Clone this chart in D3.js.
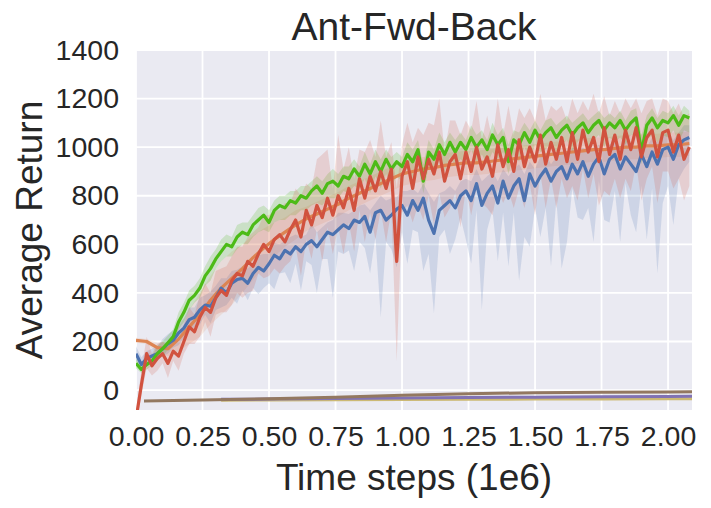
<!doctype html>
<html>
<head>
<script src="https://cdnjs.cloudflare.com/ajax/libs/d3/7.8.5/d3.min.js"></script>
<style>
  body { margin: 0; background: #fff; }
  text { font-family: "Liberation Sans", Arial, sans-serif; fill: #262626; }
</style>
</head>
<body>
<svg id="chart" width="711" height="508"></svg>
<script>
// sample spacing of the learning curves, in 1e6 time steps
const step = 0.02;
const orangeStep = 0.04;

const blueMean = [
  150, 105, 130, 140, 150, 170, 190, 205, 235, 255,
  290, 300, 330, 350, 345, 380, 420, 400, 440, 455,
  460, 440, 480, 505, 490, 520, 555, 540, 575, 560,
  590, 570, 600, 615, 590, 620, 650, 640, 660, 680,
  665, 700, 690, 715, 650, 730, 740, 700, 720, 745,
  760, 720, 780, 740, 790, 700, 645, 740, 760, 780,
  750, 800, 820, 780, 850, 760, 810, 840, 770, 860,
  790, 840, 870, 780, 890, 840, 880, 910, 860, 900,
  920, 870, 930, 890, 940, 880, 930, 960, 890, 950,
  970, 910, 960, 930, 900, 970, 920, 980, 930, 990,
  1000, 950, 1010, 1030, 1040
];
const blueDown = [
  30, 20, 20, 30, 30, 30, 40, 30, 50, 40,
  50, 40, 60, 40, 70, 50, 80, 50, 60, 100,
  50, 70, 60, 110, 70, 80, 140, 60, 90, 120,
  70, 160, 70, 100, 190, 80, 110, 260, 90, 120,
  90, 210, 80, 130, 170, 100, 440, 90, 140, 240,
  110, 200, 120, 90, 300, 140, 330, 110, 100, 220,
  130, 90, 200, 260, 110, 430, 150, 100, 240, 130,
  280, 110, 420, 150, 300, 90, 250, 160, 350, 120,
  420, 260, 100, 180, 240, 130, 320, 100, 190, 260,
  150, 300, 110, 210, 250, 130, 300, 150, 450, 220,
  160, 270, 140, 120, 100
];
const blueUp = [
  30, 30, 30, 30, 30, 40, 40, 40, 40, 40,
  50, 40, 50, 40, 60, 50, 40, 60, 50, 40,
  50, 60, 40, 50, 70, 40, 50, 60, 40, 70,
  50, 60, 40, 70, 60, 50, 40, 60, 70, 50,
  60, 40, 70, 50, 90, 40, 60, 80, 70, 50,
  60, 100, 50, 70, 60, 110, 130, 70, 60, 60,
  70, 60, 50, 80, 60, 100, 70, 60, 90, 50,
  90, 70, 60, 110, 50, 70, 80, 60, 70, 60,
  60, 80, 70, 90, 60, 100, 70, 50, 90, 60,
  60, 90, 70, 80, 100, 60, 80, 60, 90, 60,
  60, 80, 50, 60, 50
];

const greenMean = [
  110, 85, 105, 120, 150, 170, 195, 220, 280, 320,
  370, 390, 420, 470, 500, 540, 570, 600, 590, 630,
  650, 640, 680, 700, 720, 690, 740, 760, 750, 780,
  770, 800, 790, 820, 840, 810, 850, 860, 840, 880,
  870, 910, 880, 930, 890, 940, 900, 950, 910, 940,
  920, 970, 940, 990, 860, 980, 950, 1010, 970, 1020,
  980, 1020, 990, 1040, 1000, 1030, 990, 1050, 1010, 1040,
  940, 1030, 1010, 1060, 1020, 1070, 1030, 1060, 1080, 1040,
  1070, 1090, 1050, 1080, 1100, 1060, 1090, 1110, 1070, 1100,
  1080, 1110, 1070, 1100, 1120, 980, 1090, 1120, 1080, 1110,
  1100, 1130, 1090, 1130, 1120
];
const greenDown = [
  20, 15, 20, 20, 20, 30, 30, 30, 30, 40,
  40, 30, 40, 40, 50, 40, 40, 50, 40, 50,
  50, 40, 50, 50, 60, 40, 50, 60, 50, 60,
  50, 60, 50, 60, 70, 50, 60, 70, 50, 60,
  60, 70, 50, 60, 80, 60, 70, 60, 70, 60,
  60, 50, 70, 60, 50, 60, 70, 60, 70, 60,
  60, 70, 60, 50, 70, 60, 60, 70, 60, 60,
  50, 60, 70, 60, 70, 60, 50, 70, 60, 60,
  60, 60, 70, 60, 50, 70, 60, 60, 70, 60,
  60, 70, 60, 50, 70, 50, 60, 70, 60, 60,
  60, 60, 70, 60, 60
];
const greenUp = [
  20, 20, 20, 20, 30, 30, 30, 30, 40, 40,
  40, 40, 40, 40, 50, 40, 50, 40, 40, 50,
  40, 50, 40, 50, 40, 50, 40, 40, 50, 40,
  50, 40, 50, 40, 40, 50, 40, 50, 50, 40,
  50, 40, 40, 50, 40, 50, 50, 40, 50, 40,
  40, 50, 50, 40, 70, 50, 40, 50, 50, 40,
  50, 40, 40, 50, 50, 40, 40, 50, 40, 40,
  70, 40, 50, 40, 50, 40, 40, 50, 40, 50,
  40, 40, 50, 40, 40, 50, 40, 40, 50, 40,
  40, 40, 40, 50, 40, 70, 40, 40, 40, 40,
  40, 40, 40, 40, 30
];

const redMean = [
  -120, 20, 150, 100, 130, 150, 110, 160, 140, 200,
  260, 240, 300, 340, 320, 380, 410, 390, 450, 480,
  470, 530, 510, 560, 600, 570, 620, 640, 610, 660,
  700, 630, 740, 680, 760, 710, 790, 720, 800, 750,
  830, 740, 870, 790, 880, 820, 900, 830, 910, 530,
  880, 940, 830, 960, 870, 950, 890, 980, 860, 940,
  970, 870, 980, 900, 1000, 910, 960, 880, 1010, 920,
  990, 900, 1030, 920, 1000, 940, 1050, 930, 1020, 950,
  1040, 940, 1060, 950, 1070, 980, 1040, 940, 1080, 970,
  1050, 950, 1070, 990, 1080, 960, 1040, 1070, 960, 1060,
  1070, 980, 1050, 950, 1000
];
const redDown = [
  30, 40, 60, 40, 50, 40, 60, 40, 60, 50,
  70, 50, 80, 60, 100, 70, 90, 70, 100, 80,
  90, 130, 100, 80, 140, 100, 120, 160, 100, 130,
  110, 160, 120, 140, 100, 180, 120, 160, 130, 190,
  140, 170, 130, 180, 150, 200, 160, 220, 170, 410,
  150, 180, 140, 200, 170, 150, 210, 170, 150, 190,
  160, 200, 150, 180, 170, 140, 210, 160, 180, 150,
  170, 150, 200, 170, 150, 220, 160, 180, 150, 200,
  170, 150, 220, 170, 160, 190, 150, 180, 260, 170,
  180, 160, 200, 170, 150, 180, 170, 150, 190, 160,
  170, 150, 180, 170, 160
];
const redUp = [
  30, 60, 70, 50, 60, 50, 70, 50, 60, 70,
  80, 70, 90, 100, 80, 110, 90, 120, 100, 110,
  120, 100, 140, 110, 120, 150, 120, 100, 160, 110,
  130, 170, 110, 150, 190, 260, 200, 110, 250, 160,
  170, 130, 120, 190, 150, 140, 210, 130, 110, 300,
  130, 160, 190, 120, 180, 150, 200, 220, 120, 170,
  140, 180, 130, 170, 190, 120, 170, 150, 190, 130,
  180, 150, 130, 200, 160, 170, 170, 180, 150, 200,
  130, 170, 140, 190, 120, 170, 180, 200, 130, 160,
  140, 190, 130, 170, 120, 180, 150, 130, 170, 140,
  120, 160, 130, 170, 140
];

const orangeMean = [
  205, 200, 175, 170, 210, 260, 310, 370, 420, 460,
  500, 545, 585, 620, 650, 680, 705, 725, 745, 765,
  790, 810, 830, 850, 870, 890, 900, 910, 915, 925,
  930, 935, 935, 940, 945, 950, 955, 960, 965, 970,
  975, 980, 985, 990, 990, 995, 1000, 1000, 1005, 1005,
  1010, 1010, 1015
];
const orangeSpread = [
  10, 10, 20, 30, 50, 70, 90, 100, 110, 110,
  100, 90, 80, 70, 60, 60, 50, 50, 50, 50,
  50, 50, 50, 50, 50, 50, 50, 50, 50, 50,
  50, 50, 50, 50, 50, 50, 50, 50, 50, 50,
  50, 50, 50, 50, 50, 50, 50, 50, 50, 50,
  50, 50, 50
];

// the three flat curves near the bottom
const brownT = [0.03, 0.25, 0.5, 0.75, 1.0, 1.25, 1.5, 1.75, 2.0, 2.09];
const brownV = [-45, -41, -36, -29, -21, -15, -11, -9, -7.5, -7];
const flatT  = [0.32, 0.5, 0.75, 1.0, 1.25, 1.5, 1.75, 2.0, 2.09];
const purpleV = [-38, -37, -35, -33, -31, -29, -27, -26, -25];
const goldV   = [-42, -41, -40, -39, -38, -37, -37, -36, -36];

const xTicks = [0, 0.25, 0.5, 0.75, 1.0, 1.25, 1.5, 1.75, 2.0];
const yTicks = [0, 200, 400, 600, 800, 1000, 1200, 1400];

const svg = d3.select("#chart");
const pL = 136, pR = 692, pT = 50, pB = 410;

const x = d3.scaleLinear().domain([0, 2.09]).range([pL, pR]);
const y = d3.scaleLinear().domain([-82, 1400]).range([pB, pT]);

svg.append("defs").append("clipPath").attr("id", "plotClip")
  .append("rect")
  .attr("x", pL).attr("y", pT)
  .attr("width", pR - pL).attr("height", pB - pT);

svg.append("rect")
  .attr("x", pL).attr("y", pT)
  .attr("width", pR - pL).attr("height", pB - pT)
  .attr("fill", "#EAEAF2");

// grid
svg.append("g").selectAll("line").data(xTicks).enter().append("line")
  .attr("x1", d => x(d)).attr("x2", d => x(d))
  .attr("y1", pT).attr("y2", pB)
  .attr("stroke", "#fff").attr("stroke-width", 1.8);
svg.append("g").selectAll("line").data(yTicks).enter().append("line")
  .attr("x1", pL).attr("x2", pR)
  .attr("y1", d => y(d)).attr("y2", d => y(d))
  .attr("stroke", "#fff").attr("stroke-width", 1.8);

// axes (labels only, seaborn darkgrid has no spines)
const xAxis = svg.append("g")
  .attr("transform", `translate(0,${pB})`)
  .call(d3.axisBottom(x).tickValues(xTicks).tickFormat(d3.format(".2f")).tickSize(0).tickPadding(16));
const yAxis = svg.append("g")
  .attr("transform", `translate(${pL},0)`)
  .call(d3.axisLeft(y).tickValues(yTicks).tickFormat(d3.format("d")).tickSize(0).tickPadding(17));
[xAxis, yAxis].forEach(a => {
  a.select(".domain").remove();
  a.selectAll("text").attr("font-size", 28.5).attr("fill", "#262626")
    .attr("font-family", "Liberation Sans, Arial, sans-serif");
});

const plot = svg.append("g").attr("clip-path", "url(#plotClip)");

function curve(mean, down, up, dx) {
  return mean.map((v, i) => ({ t: i * dx, v: v, lo: v - down[i], hi: v + up[i] }));
}

const area = d3.area().x(d => x(d.t)).y0(d => y(d.lo)).y1(d => y(d.hi));
const line = d3.line().x(d => x(d.t)).y(d => y(d.v));

const series = [
  { color: "#DD8452", pts: curve(orangeMean, orangeSpread, orangeSpread, orangeStep), op: 0.15 },
  { color: "#4C72B0", pts: curve(blueMean, blueDown, blueUp, step), op: 0.18 },
  { color: "#4CBB17", pts: curve(greenMean, greenDown, greenUp, step), op: 0.2 },
  { color: "#D1523F", pts: curve(redMean, redDown, redUp, step), op: 0.18 }
];

// bands first, then the mean curves on top
series.forEach(s => {
  plot.append("path").datum(s.pts)
    .attr("d", area).attr("fill", s.color).attr("fill-opacity", s.op);
});
series.forEach(s => {
  plot.append("path").datum(s.pts)
    .attr("d", line).attr("fill", "none")
    .attr("stroke", s.color).attr("stroke-width", 3.2).attr("stroke-linejoin", "round");
});

const flat = [
  { color: "#CCB974", t: flatT, v: goldV },
  { color: "#8172B3", t: flatT, v: purpleV },
  { color: "#937860", t: brownT, v: brownV }
];
flat.forEach(s => {
  const pts = s.t.map((t, i) => ({ t: t, v: s.v[i] }));
  plot.append("path").datum(pts)
    .attr("d", line).attr("fill", "none")
    .attr("stroke", s.color).attr("stroke-width", 3);
});

// titles
svg.append("text")
  .attr("x", (pL + pR) / 2).attr("y", 40)
  .attr("text-anchor", "middle").attr("font-size", 39)
  .text("Ant-Fwd-Back");
svg.append("text")
  .attr("x", (pL + pR) / 2).attr("y", 490)
  .attr("text-anchor", "middle").attr("font-size", 37)
  .text("Time steps (1e6)");
svg.append("text")
  .attr("transform", `translate(42,${(pT + pB) / 2}) rotate(-90)`)
  .attr("text-anchor", "middle").attr("font-size", 37)
  .text("Average Return");
</script>
</body>
</html>
